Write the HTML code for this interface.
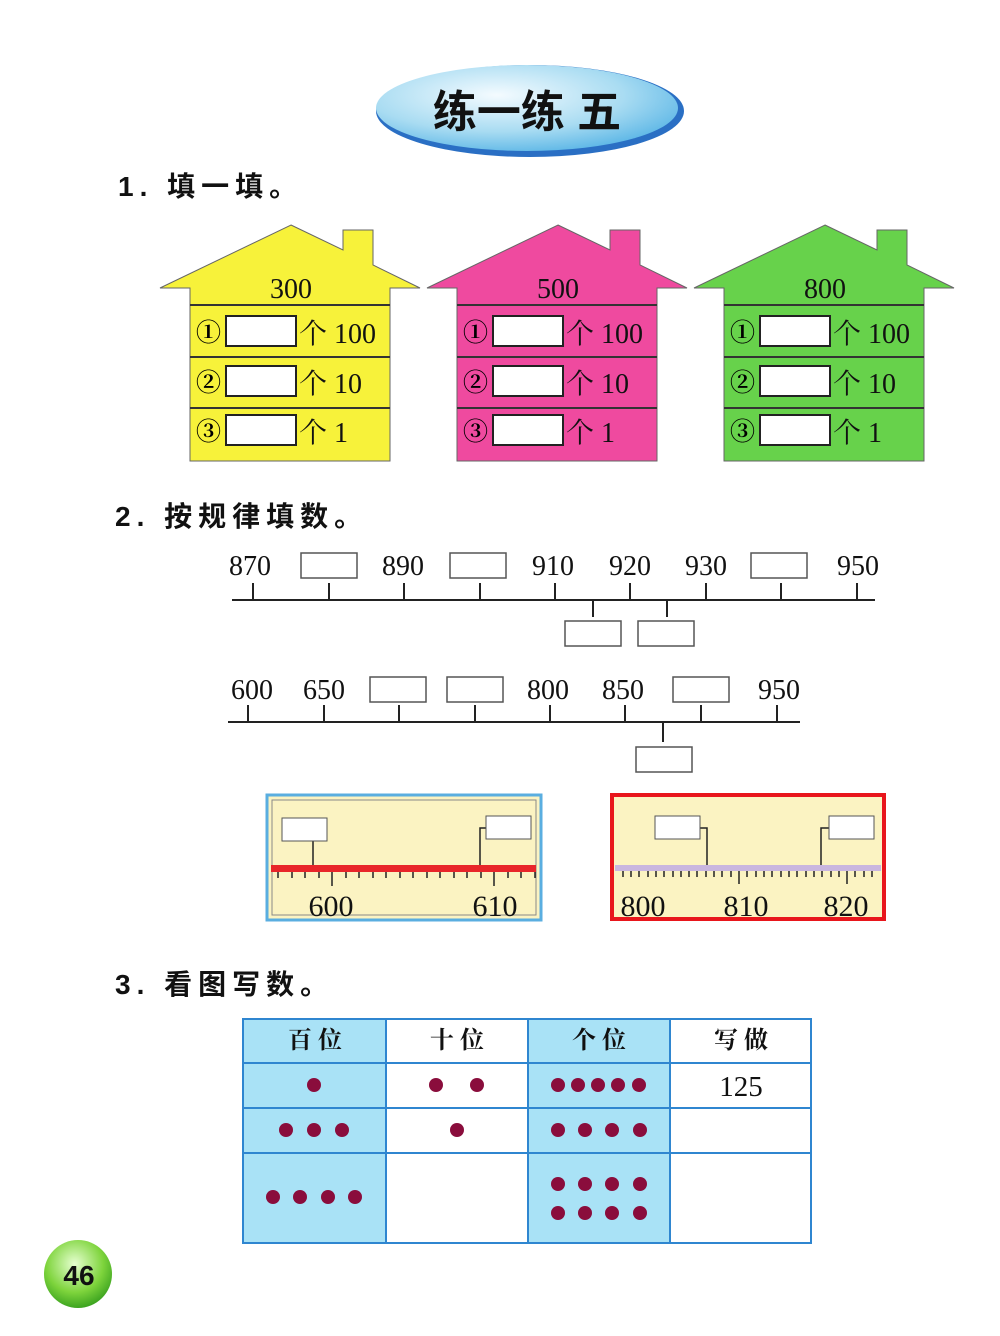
<!DOCTYPE html>
<html><head><meta charset="utf-8"><style>
html,body{margin:0;padding:0;background:#fff;}
svg{display:block;}
.s{font-family:"Liberation Serif","Noto Serif CJK SC",serif;}
.c{font-family:"Liberation Sans","Noto Sans CJK SC",sans-serif;}
.h{font-family:"Liberation Sans","Noto Sans CJK SC",sans-serif;font-size:28px;font-weight:bold;letter-spacing:6px;fill:#111;}
.cn{font-size:25px;font-weight:bold;fill:#000;}
</style></head><body>
<svg width="1000" height="1336" viewBox="0 0 1000 1336" xmlns="http://www.w3.org/2000/svg">
<defs>
<radialGradient id="og" cx="0.4" cy="0.35" r="0.7">
<stop offset="0" stop-color="#f4fbff"/><stop offset="0.6" stop-color="#a9dcf2"/><stop offset="1" stop-color="#5bb6e6"/></radialGradient>
<radialGradient id="gg" cx="0.45" cy="0.35" r="0.7">
<stop offset="0" stop-color="#e6ffd0"/><stop offset="0.6" stop-color="#7ed43c"/><stop offset="1" stop-color="#2f9a1a"/></radialGradient>
</defs>
<!-- title -->
<ellipse cx="530" cy="111" rx="154" ry="46" fill="#2a6fc4"/>
<ellipse cx="527" cy="108" rx="151" ry="43" fill="url(#og)"/>
<text x="527" y="127" text-anchor="middle" class="c" font-size="44" font-weight="bold" fill="#111">练一练 五</text>

<text x="118" y="196" class="h">1. 填一填。</text>

<!-- houses -->
<g font-size="28" class="s" fill="#111">
<g transform="translate(160,220)">
<polygon points="131,5 183,30 183,10 213,10 213,45 260,68 230,68 230,241 30,241 30,68 0,68" fill="#f7f23a" stroke="#666" stroke-width="1"/>
<line x1="30" y1="85" x2="230" y2="85" stroke="#333" stroke-width="2"/>
<line x1="30" y1="137" x2="230" y2="137" stroke="#333" stroke-width="2"/>
<line x1="30" y1="188" x2="230" y2="188" stroke="#333" stroke-width="2"/>
<text x="131" y="78" text-anchor="middle">300</text>
<text x="36" y="121" class="cn">①</text><rect x="66" y="96" width="70" height="30" fill="#fff" stroke="#222" stroke-width="2"/><text x="139" y="123">个 100</text>
<text x="36" y="171" class="cn">②</text><rect x="66" y="146" width="70" height="30" fill="#fff" stroke="#222" stroke-width="2"/><text x="139" y="173">个 10</text>
<text x="36" y="220" class="cn">③</text><rect x="66" y="195" width="70" height="30" fill="#fff" stroke="#222" stroke-width="2"/><text x="139" y="222">个 1</text>
</g>
<g transform="translate(427,220)">
<polygon points="131,5 183,30 183,10 213,10 213,45 260,68 230,68 230,241 30,241 30,68 0,68" fill="#ef4a9f" stroke="#666" stroke-width="1"/>
<line x1="30" y1="85" x2="230" y2="85" stroke="#333" stroke-width="2"/>
<line x1="30" y1="137" x2="230" y2="137" stroke="#333" stroke-width="2"/>
<line x1="30" y1="188" x2="230" y2="188" stroke="#333" stroke-width="2"/>
<text x="131" y="78" text-anchor="middle">500</text>
<text x="36" y="121" class="cn">①</text><rect x="66" y="96" width="70" height="30" fill="#fff" stroke="#222" stroke-width="2"/><text x="139" y="123">个 100</text>
<text x="36" y="171" class="cn">②</text><rect x="66" y="146" width="70" height="30" fill="#fff" stroke="#222" stroke-width="2"/><text x="139" y="173">个 10</text>
<text x="36" y="220" class="cn">③</text><rect x="66" y="195" width="70" height="30" fill="#fff" stroke="#222" stroke-width="2"/><text x="139" y="222">个 1</text>
</g>
<g transform="translate(694,220)">
<polygon points="131,5 183,30 183,10 213,10 213,45 260,68 230,68 230,241 30,241 30,68 0,68" fill="#67d24b" stroke="#666" stroke-width="1"/>
<line x1="30" y1="85" x2="230" y2="85" stroke="#333" stroke-width="2"/>
<line x1="30" y1="137" x2="230" y2="137" stroke="#333" stroke-width="2"/>
<line x1="30" y1="188" x2="230" y2="188" stroke="#333" stroke-width="2"/>
<text x="131" y="78" text-anchor="middle">800</text>
<text x="36" y="121" class="cn">①</text><rect x="66" y="96" width="70" height="30" fill="#fff" stroke="#222" stroke-width="2"/><text x="139" y="123">个 100</text>
<text x="36" y="171" class="cn">②</text><rect x="66" y="146" width="70" height="30" fill="#fff" stroke="#222" stroke-width="2"/><text x="139" y="173">个 10</text>
<text x="36" y="220" class="cn">③</text><rect x="66" y="195" width="70" height="30" fill="#fff" stroke="#222" stroke-width="2"/><text x="139" y="222">个 1</text>
</g>
</g>

<text x="115" y="526" class="h">2. 按规律填数。</text>

<!-- number lines -->
<g stroke="#222" stroke-width="2" fill="none">
<line x1="232" y1="600" x2="875" y2="600"/>
<path d="M253 583V600M329 583V600M404 583V600M480 583V600M555 583V600M630 583V600M706 583V600M781 583V600M857 583V600"/>
<path d="M593 600V617M667 600V617"/>
<line x1="228" y1="722" x2="800" y2="722"/>
<path d="M248 705V722M324 705V722M399 705V722M475 705V722M550 705V722M625 705V722M701 705V722M777 705V722"/>
<path d="M663 722V742"/>
</g>
<g fill="#fff" stroke="#555" stroke-width="1.5">
<rect x="301" y="553" width="56" height="25"/><rect x="450" y="553" width="56" height="25"/><rect x="751" y="553" width="56" height="25"/>
<rect x="565" y="621" width="56" height="25"/><rect x="638" y="621" width="56" height="25"/>
<rect x="370" y="677" width="56" height="25"/><rect x="447" y="677" width="56" height="25"/><rect x="673" y="677" width="56" height="25"/>
<rect x="636" y="747" width="56" height="25"/>
</g>
<g class="s" font-size="28" fill="#111" text-anchor="middle">
<text x="250" y="575">870</text><text x="403" y="575">890</text><text x="553" y="575">910</text><text x="630" y="575">920</text><text x="706" y="575">930</text><text x="858" y="575">950</text>
<text x="252" y="699">600</text><text x="324" y="699">650</text><text x="548" y="699">800</text><text x="623" y="699">850</text><text x="779" y="699">950</text>
</g>

<!-- rulers -->
<rect x="267" y="795" width="274" height="125" fill="#fbf3c2" stroke="#5aaee0" stroke-width="3"/>
<rect x="272" y="800" width="264" height="115" fill="none" stroke="#888" stroke-width="1"/>
<rect x="271" y="865" width="265" height="7" fill="#e8262a"/>
<g stroke="#222" stroke-width="1.5">
<path d="M278 872v6M292 872v6M305 872v6M319 872v6M346 872v6M359 872v6M373 872v6M386 872v6M400 872v6M413 872v6M427 872v6M440 872v6M454 872v6M467 872v6M481 872v6M508 872v6M521 872v6M535 872v6"/>
<path d="M332 872v14M494 872v14"/>
<path d="M313 841v24M486 828h-6v37" fill="none"/>
</g>
<rect x="282" y="818" width="45" height="23" fill="#fff" stroke="#555"/>
<rect x="486" y="816" width="45" height="23" fill="#fff" stroke="#555"/>
<text x="331" y="916" class="s" font-size="30" text-anchor="middle" fill="#111">600</text>
<text x="495" y="916" class="s" font-size="30" text-anchor="middle" fill="#111">610</text>

<rect x="612" y="795" width="272" height="124" fill="#fbf3c2" stroke="#e8161c" stroke-width="4"/>
<rect x="615" y="865" width="266" height="6" fill="#c9b6df"/>
<g stroke="#222" stroke-width="1.5" fill="none">
<path d="M623 871v6M631 871v6M639 871v6M648 871v6M656 871v6M664 871v6M673 871v6M681 871v6M689 871v6M697 871v6M706 871v6M714 871v6M722 871v6M731 871v6M747 871v6M756 871v6M764 871v6M772 871v6M781 871v6M789 871v6M797 871v6M806 871v6M814 871v6M822 871v6M831 871v6M839 871v6M855 871v6M864 871v6M872 871v6"/>
<path d="M739 871v13M847 871v13"/>
<path d="M700 828h7v37M829 828h-8v37"/>
</g>
<rect x="655" y="816" width="45" height="23" fill="#fff" stroke="#555"/>
<rect x="829" y="816" width="45" height="23" fill="#fff" stroke="#555"/>
<text x="643" y="916" class="s" font-size="30" text-anchor="middle" fill="#111">800</text>
<text x="746" y="916" class="s" font-size="30" text-anchor="middle" fill="#111">810</text>
<text x="846" y="916" class="s" font-size="30" text-anchor="middle" fill="#111">820</text>

<text x="115" y="994" class="h">3. 看图写数。</text>

<!-- table -->
<rect x="243" y="1019" width="143" height="224" fill="#a9e2f6"/>
<rect x="528" y="1019" width="142" height="224" fill="#a9e2f6"/>
<g stroke="#2f86d0" stroke-width="2" fill="none">
<rect x="243" y="1019" width="568" height="224"/>
<path d="M386 1019V1243M528 1019V1243M670 1019V1243M243 1063H811M243 1108H811M243 1153H811"/>
</g>
<g class="s" font-size="24" font-weight="bold" fill="#111" text-anchor="middle">
<text x="315" y="1048">百 位</text><text x="457" y="1048">十 位</text><text x="599" y="1048">个 位</text><text x="741" y="1048">写 做</text>
</g>
<text x="741" y="1096" class="s" font-size="29" text-anchor="middle" fill="#111">125</text>
<g fill="#8a0d3c">
<circle cx="314" cy="1085" r="7"/><circle cx="436" cy="1085" r="7"/><circle cx="477" cy="1085" r="7"/>
<circle cx="558" cy="1085" r="7"/><circle cx="578" cy="1085" r="7"/><circle cx="598" cy="1085" r="7"/><circle cx="618" cy="1085" r="7"/><circle cx="639" cy="1085" r="7"/>
<circle cx="286" cy="1130" r="7"/><circle cx="314" cy="1130" r="7"/><circle cx="342" cy="1130" r="7"/><circle cx="457" cy="1130" r="7"/>
<circle cx="558" cy="1130" r="7"/><circle cx="585" cy="1130" r="7"/><circle cx="612" cy="1130" r="7"/><circle cx="640" cy="1130" r="7"/>
<circle cx="273" cy="1197" r="7"/><circle cx="300" cy="1197" r="7"/><circle cx="328" cy="1197" r="7"/><circle cx="355" cy="1197" r="7"/>
<circle cx="558" cy="1184" r="7"/><circle cx="585" cy="1184" r="7"/><circle cx="612" cy="1184" r="7"/><circle cx="640" cy="1184" r="7"/>
<circle cx="558" cy="1213" r="7"/><circle cx="585" cy="1213" r="7"/><circle cx="612" cy="1213" r="7"/><circle cx="640" cy="1213" r="7"/>
</g>

<!-- page number -->
<circle cx="78" cy="1274" r="34" fill="url(#gg)"/>
<text x="79" y="1285" class="c" font-size="28" font-weight="bold" text-anchor="middle" fill="#111">46</text>
</svg>
</body></html>
